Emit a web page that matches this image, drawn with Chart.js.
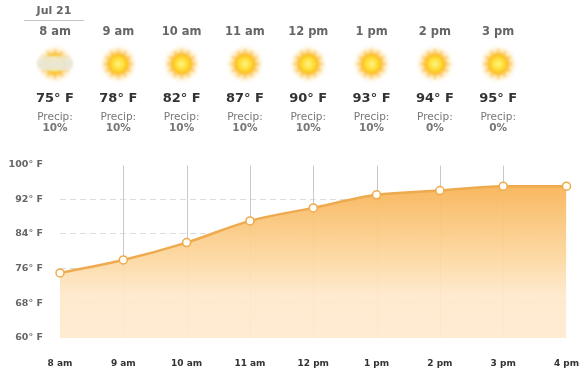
<!DOCTYPE html>
<html lang="en">
<head>
  <meta charset="UTF-8">
  <title>Hourly forecast</title>
  <script src="https://cdn.jsdelivr.net/npm/chart.js"></script>
  <style>
    html, body { margin: 0; padding: 0; background: #fff; overflow: hidden; }
    #wrap { position: relative; width: 587px; height: 389px; font-family: "DejaVu Sans", sans-serif; }
    #wrap canvas { position: absolute; left: 0; top: 0; }
    .col { position: absolute; top: 0; width: 64px; margin-left: -32px; text-align: center; }
    .col div { position: absolute; left: 0; right: 0; white-space: nowrap; }
    .hour { top: 24px; font-size: 11.5px; font-weight: bold; color: #666; }
    .temp { top: 90px; font-size: 13px; font-weight: bold; color: #333; }
    .lbl { top: 110px; font-size: 10.5px; color: #777; }
    .pct { top: 121px; font-size: 10.5px; font-weight: bold; color: #777; }
    #date { position: absolute; left: 24px; top: 4px; width: 60px; height: 15.5px; text-align: center;
      font-size: 11px; font-weight: bold; color: #666; border-bottom: 1px solid #c4c4c4; }
  </style>
</head>
<body>
  <div id="wrap">
    <canvas id="forecastChart" width="587" height="389"></canvas>
    <div id="date">Jul 21</div>
  </div>
  <script>
    const hours = ['8 am', '9 am', '10 am', '11 am', '12 pm', '1 pm', '2 pm', '3 pm', '4 pm'];
    const temps = [75, 78, 82, 87, 90, 93, 94, 95, 95];
    const headerHours = ['8 am', '9 am', '10 am', '11 am', '12 pm', '1 pm', '2 pm', '3 pm'];
    const headerTemps = [75, 78, 82, 87, 90, 93, 94, 95];
    const precip = [10, 10, 10, 10, 10, 10, 0, 0];
    const cloudy = [true, false, false, false, false, false, false, false];

    // sun icons for the top row
    function drawSun(ctx, x, y, withCloud) {
      ctx.save();
      ctx.translate(x, y);
      ctx.filter = 'blur(0.8px)';
      const glow = ctx.createRadialGradient(0, 0, 8, 0, 0, 19);
      glow.addColorStop(0, 'rgba(253,195,70,0.85)');
      glow.addColorStop(0.6, 'rgba(253,210,120,0.35)');
      glow.addColorStop(1, 'rgba(255,235,180,0)');
      ctx.fillStyle = glow;
      ctx.beginPath();
      ctx.arc(0, 0, 19, 0, Math.PI * 2);
      ctx.fill();
      ctx.fillStyle = 'rgba(252,190,60,0.55)';
      for (let i = 0; i < 12; i++) {
        ctx.rotate(Math.PI / 6);
        ctx.beginPath();
        ctx.moveTo(-3, -9);
        ctx.lineTo(0, -16);
        ctx.lineTo(3, -9);
        ctx.fill();
      }
      const disc = ctx.createRadialGradient(0, 0, 1, 0, 0, 10);
      disc.addColorStop(0, '#fff176');
      disc.addColorStop(0.65, '#fed82c');
      disc.addColorStop(1, '#f9b41c');
      ctx.fillStyle = disc;
      ctx.beginPath();
      ctx.arc(0, 0, 10, 0, Math.PI * 2);
      ctx.fill();
      if (withCloud) {
        const band = ctx.createLinearGradient(0, -9, 0, 9);
        band.addColorStop(0, 'rgba(240,236,215,0.8)');
        band.addColorStop(0.5, 'rgba(232,230,216,0.98)');
        band.addColorStop(1, 'rgba(240,236,215,0.8)');
        ctx.fillStyle = band;
        ctx.filter = 'blur(1.2px)';
        ctx.beginPath();
        ctx.roundRect(-18, -8, 36, 15, 7);
        ctx.fill();
      }
      ctx.restore();
    }

    const wrap = document.getElementById('wrap');
    const headerOffset = -5;

    const overlay = {
      id: 'overlay',
      beforeDatasetsDraw(chart) {
        const { ctx, scales: { x, y }, chartArea } = chart;
        ctx.save();
        ctx.lineWidth = 1;
        for (let i = 1; i < hours.length - 1; i++) {
          const px = Math.round(x.getPixelForValue(i)) + 0.5;
          const py = y.getPixelForValue(temps[i]);
          ctx.strokeStyle = '#c9c9c9';
          ctx.beginPath();
          ctx.moveTo(px, chartArea.top + 1);
          ctx.lineTo(px, py);
          ctx.stroke();
          ctx.strokeStyle = '#f6dcb5';
          ctx.beginPath();
          ctx.moveTo(px, py);
          ctx.lineTo(px, chartArea.bottom);
          ctx.stroke();
        }
        ctx.restore();
      },
      afterDraw(chart) {
        const x = chart.scales.x;
        headerHours.forEach((h, i) => {
          drawSun(chart.ctx, x.getPixelForValue(i) + headerOffset, 64, cloudy[i]);
        });
      }
    };

    const ctx = document.getElementById('forecastChart').getContext('2d');
    const fillGrad = ctx.createLinearGradient(0, 186, 0, 338);
    fillGrad.addColorStop(0, 'rgba(248,180,88,0.95)');
    fillGrad.addColorStop(0.45, 'rgba(252,212,152,0.9)');
    fillGrad.addColorStop(0.72, 'rgba(254,232,202,0.9)');
    fillGrad.addColorStop(1, 'rgba(254,233,205,0.9)');

    const chart = new Chart(ctx, {
      type: 'line',
      data: {
        labels: hours,
        datasets: [{
          data: temps,
          borderColor: '#eeaa4e',
          borderWidth: 2.5,
          backgroundColor: fillGrad,
          fill: 'start',
          cubicInterpolationMode: 'monotone',
          pointRadius: 4,
          pointBorderWidth: 1.5,
          pointBackgroundColor: '#fffdf5',
          pointBorderColor: '#eeaa4e',
          clip: false
        }]
      },
      options: {
        responsive: false,
        animation: false,
        layout: { padding: { top: 164.5, right: 20.5, bottom: 0, left: 0 } },
        plugins: { legend: { display: false }, tooltip: { enabled: false } },
        scales: {
          x: {
            offset: false,
            afterFit: s => { s.height = 51; s.paddingLeft = 0; s.paddingRight = 0; },
            grid: { display: false },
            border: { display: false },
            ticks: {
              padding: 12, maxRotation: 0, autoSkip: false,
              color: '#333',
              font: { family: '"DejaVu Sans"', size: 9, weight: 'bold' }
            }
          },
          y: {
            min: 60,
            max: 100,
            afterFit: s => { s.width = 60; s.paddingTop = 0; s.paddingBottom = 0; },
            afterBuildTicks: s => { s.ticks = [60, 68, 76, 84, 92, 100].map(v => ({ value: v })); },
            border: { display: false, dash: [6, 4] },
            grid: {
              drawTicks: false,
              color: c => (c.tick.value === 60 || c.tick.value === 100) ? 'transparent' : '#dcdcdc',
              lineWidth: 1
            },
            ticks: {
              padding: 17,
              color: '#666',
              font: { family: '"DejaVu Sans"', size: 9.5, weight: 'bold' },
              callback: v => v + '\u00b0 F'
            }
          }
        }
      },
      plugins: [overlay]
    });

    // top row text, lined up on the chart's own columns
    headerHours.forEach((h, i) => {
      const col = document.createElement('div');
      col.className = 'col';
      col.style.left = (chart.scales.x.getPixelForValue(i) + headerOffset) + 'px';
      col.innerHTML = '<div class="hour">' + h + '</div>'
        + '<div class="temp">' + headerTemps[i] + '\u00b0 F</div>'
        + '<div class="lbl">Precip:</div>'
        + '<div class="pct">' + precip[i] + '%</div>';
      wrap.appendChild(col);
    });
  </script>
</body>
</html>
